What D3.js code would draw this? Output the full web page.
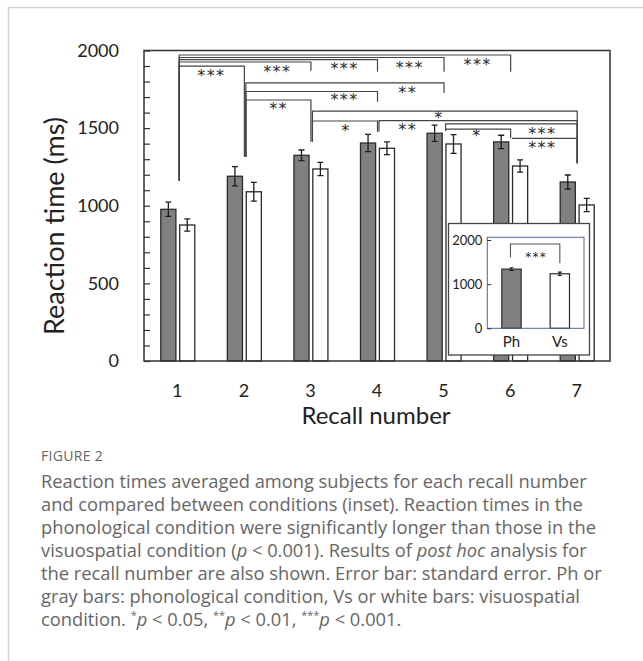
<!DOCTYPE html>
<html>
<head>
<meta charset="utf-8">
<script src="https://cdn.jsdelivr.net/npm/d3@7"></script>
<style>
  body { margin: 0; background: #fff; }
  svg { display: block; }
  .lab { font-family: Lato, "Noto Sans", sans-serif; fill: #222; }
  .star { font-family: "DejaVu Sans", sans-serif; fill: #2a2a2a; }
  .cap { font-family: "Open Sans", "Noto Sans", sans-serif; fill: #666; }
</style>
</head>
<body>
<svg width="643" height="661"></svg>
<script>
// reaction times per recall number (ms)
var recall = ["1", "2", "3", "4", "5", "6", "7"];
var phMean = [977, 1190, 1325, 1404, 1467, 1411, 1153];
var phSE   = [46, 62, 34, 56, 52, 43, 45];
var vsMean = [876, 1090, 1237, 1370, 1398, 1256, 1005];
var vsSE   = [39, 60, 43, 41, 60, 39, 43];
var yTicks = [0, 500, 1000, 1500, 2000];

// inset: condition means
var insetCond = ["Ph", "Vs"];
var insetMean = [1340, 1235];
var insetSE = [32, 38];
var insetTicks = [0, 1000, 2000];

// post hoc brackets: from, to, line level, drop at from, drop at to, stars, label at, label level
var brackets = [
  [1, 6, 1971, 1161, 1863, "***", 5.5, 1928],
  [1, 5, 1955, 1161, 1863, "***", 4.48, 1911],
  [1, 4, 1941, 1161, 1863, "***", 3.5, 1902],
  [1, 3, 1926, 1161, 1870, "***", 2.49, 1885],
  [1, 2, 1900, 1161, 1316, "***", 1.5, 1855],
  [2, 5, 1791, 1316, 1728, "**", 4.45, 1746],
  [2, 4, 1736, 1316, 1670, "***", 3.5, 1702],
  [2, 3, 1681, 1316, 1413, "**", 2.51, 1643],
  [3, 7, 1610, 1413, 1273, "*", 4.92, 1585],
  [3, 4, 1546, 1413, 1477, "*", 3.52, 1503],
  [4, 7, 1548, 1477, 1273, "**", 4.45, 1509],
  [5, 7, 1527, 1481, 1273, "***", 6.47, 1483],
  [5, 6, 1494, 1481, 1434, "*", 5.49, 1473],
  [6, 7, 1434, 1434, 1273, "***", 6.47, 1396]
];
var insetBracket = [1909, 1608, 1472, "***", 1676];

var captionTitle = "FIGURE 2";
var captionLines = [
  [["Reaction times averaged among subjects for each recall number"]],
  [["and compared between conditions (inset). Reaction times in the"]],
  [["phonological condition were significantly longer than those in the"]],
  [["visuospatial condition ("], ["p", "i"], [" < 0.001). Results of "], ["post hoc", "i"], [" analysis for"]],
  [["the recall number are also shown. Error bar: standard error. Ph or"]],
  [["gray bars: phonological condition, Vs or white bars: visuospatial"]],
  [["condition. "], ["*", "s"], ["p", "i"], [" < 0.05, "], ["**", "s"], ["p", "i"], [" < 0.01, "], ["***", "s"], ["p", "i"], [" < 0.001."]]
];

var svg = d3.select("svg");
var pL = 144, pR = 610, pT = 50.5, pB = 361;

// outer figure border
svg.append("path")
    .attr("d", "M8.5,661V7.5H643")
    .attr("fill", "none")
    .attr("stroke", "#d2d2d2")
    .attr("stroke-width", 1.5);

var x = d3.scaleBand().domain(recall).range([pL, pR]);
var sub = d3.scaleBand().domain(["ph", "vs"]).range([-16.5, 17.5]).paddingInner(0.2);
var y = d3.scaleLinear().domain([0, 2000]).range([pB, pT]);
var mid = function (i) { return x(recall[i]) + x.bandwidth() / 2; };
var at = d3.scaleLinear().domain([1, 7]).range([mid(0), mid(6)]);

var rows = recall.map(function (r, i) {
  return [
    {key: "ph", i: i, v: phMean[i], e: phSE[i]},
    {key: "vs", i: i, v: vsMean[i], e: vsSE[i]}
  ];
}).flat();

// bars
svg.append("g").selectAll("rect")
    .data(rows)
    .enter().append("rect")
    .attr("x", function (d) { return mid(d.i) + sub(d.key); })
    .attr("y", function (d) { return y(d.v); })
    .attr("width", sub.bandwidth())
    .attr("height", function (d) { return pB - y(d.v); })
    .attr("fill", function (d) { return d.key == "ph" ? "#808080" : "#fff"; })
    .attr("stroke", "#2a2a2a")
    .attr("stroke-width", 1.3);

// error bars
var eb = svg.append("g").attr("stroke", "#1e1e1e").attr("stroke-width", 1.3).attr("fill", "none");
eb.selectAll("path")
    .data(rows)
    .enter().append("path")
    .attr("d", function (d) {
      var cx = mid(d.i) + sub(d.key) + sub.bandwidth() / 2,
          t = y(d.v + d.e), b = y(d.v - d.e);
      return "M" + (cx - 3) + "," + t + "H" + (cx + 3) + "M" + cx + "," + t + "V" + b +
             "M" + (cx - 3) + "," + b + "H" + (cx + 3);
    });

// frame
svg.append("rect")
    .attr("x", pL).attr("y", pT)
    .attr("width", pR - pL).attr("height", pB - pT)
    .attr("fill", "none").attr("stroke", "#333").attr("stroke-width", 1.5);

// y axis, ticks inward
var yAxis = svg.append("g")
    .attr("transform", "translate(" + pL + ",0)")
    .call(d3.axisLeft(y)
        .tickValues(d3.range(0, 2001, 100))
        .tickSize(-6)
        .tickPadding(25)
        .tickFormat(function (d) { return yTicks.indexOf(d) >= 0 ? d : ""; }));
yAxis.select(".domain").remove();
yAxis.selectAll("line").attr("stroke", "#333").attr("stroke-width", 1.2);
yAxis.selectAll("text").attr("class", "lab").style("font-size", "18px").attr("fill", "#222");

// x axis labels
var xAxis = svg.append("g")
    .attr("transform", "translate(0," + pB + ")")
    .call(d3.axisBottom(x).tickSize(0).tickPadding(23));
xAxis.select(".domain").remove();
xAxis.selectAll("text").attr("class", "lab").style("font-size", "18px").attr("fill", "#222");

svg.append("text").attr("class", "lab")
    .attr("x", 376).attr("y", 424)
    .attr("text-anchor", "middle")
    .style("font-size", "24px")
    .text("Recall number");

svg.append("text").attr("class", "lab")
    .attr("transform", "translate(64,226) rotate(-90)")
    .attr("text-anchor", "middle")
    .style("font-size", "27px")
    .text("Reaction time (ms)");

// significance brackets
var br = svg.append("g");
br.selectAll("path")
    .data(brackets)
    .enter().append("path")
    .attr("d", function (d) {
      var xa = mid(d[0] - 1) + 2, xb = mid(d[1] - 1) + 0.5;
      return "M" + xa + "," + y(d[3]) + "V" + y(d[2]) + "H" + xb + "V" + y(d[4]);
    })
    .attr("fill", "none")
    .attr("stroke", "#444")
    .attr("stroke-width", 1.2);
br.selectAll("text")
    .data(brackets)
    .enter().append("text")
    .attr("class", "star")
    .attr("x", function (d) { return at(d[6]) + 0.8; })
    .attr("y", function (d) { return y(d[7]); })
    .attr("dy", "0.53em")
    .attr("text-anchor", "middle")
    .style("font-size", "16px")
    .style("letter-spacing", "1.4px")
    .text(function (d) { return d[5]; });

// inset
var ins = svg.append("g");
ins.append("rect")
    .attr("x", 448.5).attr("y", 223.5).attr("width", 141).attr("height", 131.5)
    .attr("fill", "#fff").attr("stroke", "#444").attr("stroke-width", 1.3);

var iL = 487.3, iR = 584, iT = 237.3, iB = 328.3;
var xi = d3.scaleBand().domain(insetCond).range([iL, iR]).paddingInner(0.6).paddingOuter(0.3);
var yi = d3.scaleLinear().domain([0, 2000]).range([iB, 240]);

ins.selectAll(".ibar")
    .data(insetCond)
    .enter().append("rect")
    .attr("class", "ibar")
    .attr("x", function (d) { return xi(d); })
    .attr("y", function (d, i) { return yi(insetMean[i]); })
    .attr("width", xi.bandwidth())
    .attr("height", function (d, i) { return iB - yi(insetMean[i]); })
    .attr("fill", function (d, i) { return i == 0 ? "#808080" : "#fff"; })
    .attr("stroke", "#2a2a2a")
    .attr("stroke-width", 1.2);

ins.selectAll(".ierr")
    .data(insetCond)
    .enter().append("path")
    .attr("class", "ierr")
    .attr("d", function (d, i) {
      var cx = xi(d) + xi.bandwidth() / 2,
          t = yi(insetMean[i] + insetSE[i]), b = yi(insetMean[i] - insetSE[i]);
      return "M" + (cx - 2) + "," + t + "H" + (cx + 2) + "M" + cx + "," + t + "V" + b +
             "M" + (cx - 2) + "," + b + "H" + (cx + 2);
    })
    .attr("fill", "none").attr("stroke", "#1e1e1e").attr("stroke-width", 1.1);

ins.append("rect")
    .attr("x", iL).attr("y", iT).attr("width", iR - iL).attr("height", iB - iT)
    .attr("fill", "none").attr("stroke", "#56678f").attr("stroke-width", 1);

var iy = ins.append("g")
    .attr("transform", "translate(" + iL + ",0)")
    .call(d3.axisLeft(yi).tickValues(insetTicks).tickSize(-4).tickPadding(5).tickFormat(d3.format("d")));
iy.select(".domain").remove();
iy.selectAll("line").attr("stroke", "#333");
iy.selectAll("text").attr("class", "lab").style("font-size", "13px").attr("fill", "#222");

var ix = ins.append("g")
    .attr("transform", "translate(0," + iB + ")")
    .call(d3.axisBottom(xi).tickSize(0).tickPadding(8));
ix.select(".domain").remove();
ix.selectAll("text").attr("class", "lab").style("font-size", "15px").attr("fill", "#222");

var xa = xi("Ph") + xi.bandwidth() / 2 - 1, xb = xi("Vs") + xi.bandwidth() / 2;
ins.append("path")
    .attr("d", "M" + xa + "," + yi(insetBracket[1]) + "V" + yi(insetBracket[0]) +
               "H" + xb + "V" + yi(insetBracket[2]))
    .attr("fill", "none").attr("stroke", "#555").attr("stroke-width", 1.1);
ins.append("text").attr("class", "star")
    .attr("x", (xa + xb) / 2 + 1).attr("y", yi(insetBracket[4]))
    .attr("dy", "0.53em")
    .attr("text-anchor", "middle")
    .style("font-size", "12px")
    .style("letter-spacing", "1.2px")
    .attr("fill", "#666")
    .text(insetBracket[3]);

// caption
svg.append("text").attr("class", "cap")
    .attr("x", 41).attr("y", 461)
    .style("font-size", "14px")
    .style("letter-spacing", "0.3px")
    .text(captionTitle);

var cap = svg.append("g").attr("class", "cap").style("font-size", "18.3px");
captionLines.forEach(function (line, i) {
  var t = cap.append("text").attr("x", 41).attr("y", 488 + i * 23.05);
  line.forEach(function (seg) {
    var s = t.append("tspan").text(seg[0]);
    if (seg[1] == "i") s.style("font-style", "italic");
    if (seg[1] == "s") s.style("font-size", "11px").attr("baseline-shift", "super");
  });
});
</script>
</body>
</html>
